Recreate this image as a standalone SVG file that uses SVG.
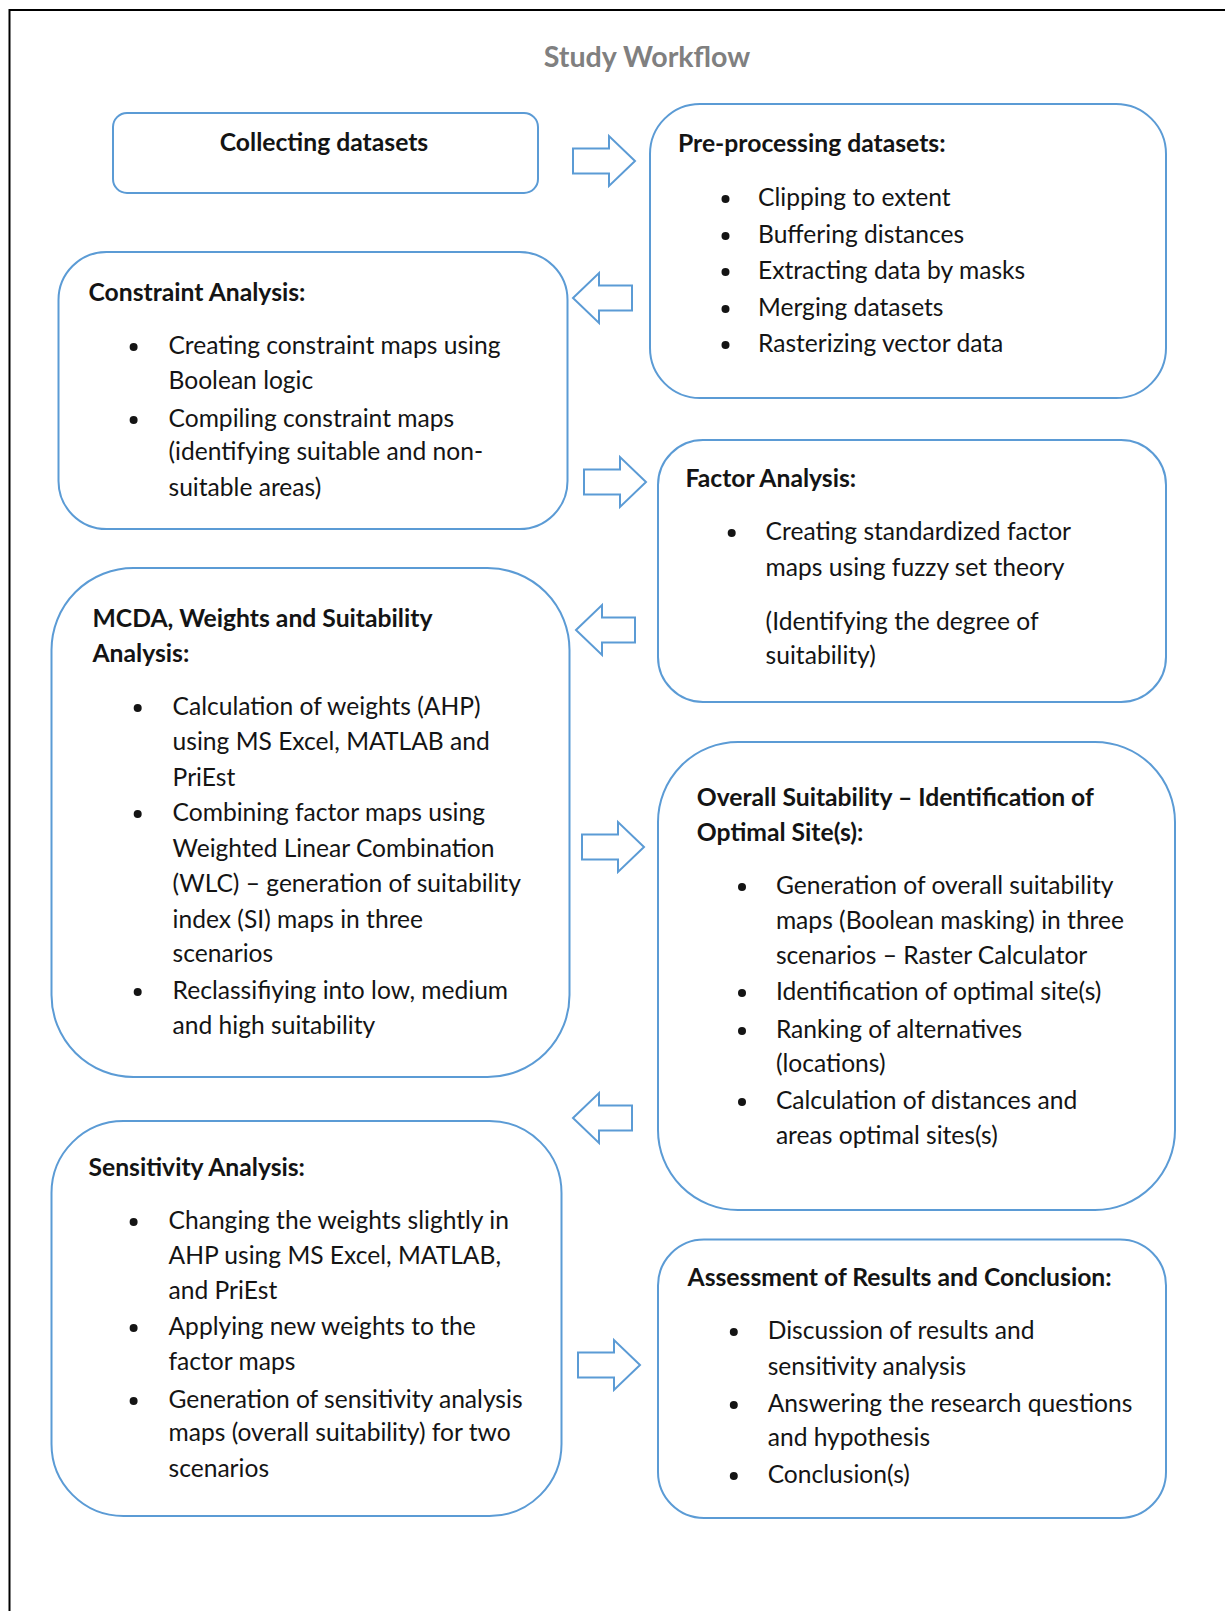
<svg xmlns="http://www.w3.org/2000/svg" width="1225" height="1611" viewBox="0 0 1225 1611">
  <style>
    .box { fill: #ffffff; stroke: #5b9bd5; stroke-width: 2; }
    .arrow { fill: #ffffff; stroke: #5b9bd5; stroke-width: 2; stroke-linejoin: miter; }
    text { font-family: Lato, "Liberation Sans", sans-serif; fill: #141414; }
    .t { font-size: 24.6px; }
    .h { font-size: 24.7px; font-weight: bold; }
    .title { font-size: 28.6px; font-weight: bold; fill: #808080; }
    .dot { fill: #141414; }
  </style>
  <defs>
    <!-- block arrow pointing right, origin at the tail, centred vertically -->
    <path id="arrowR" d="M0,-12.5 H36 V-25 L62,0 L36,25 V12.5 H0 Z"/>
    <!-- block arrow pointing left, origin at the tip -->
    <path id="arrowL" d="M0,0 L26,-25 V-12.5 H59 V12.5 H26 V25 Z"/>
  </defs>

  <rect width="1225" height="1611" fill="#ffffff"/>
  <!-- page frame (top and left edges) -->
  <path d="M9.5,1611 V10 H1225" fill="none" stroke="#000000" stroke-width="2"/>

  <text class="title" x="647" y="67" text-anchor="middle">Study Workflow</text>

  <g id="connectors">
    <use href="#arrowR" class="arrow" x="573" y="161"/>
    <use href="#arrowL" class="arrow" x="573" y="298"/>
    <use href="#arrowR" class="arrow" x="584" y="482"/>
    <use href="#arrowL" class="arrow" x="576" y="630"/>
    <use href="#arrowR" class="arrow" x="582" y="847"/>
    <use href="#arrowL" class="arrow" x="573" y="1118"/>
    <use href="#arrowR" class="arrow" x="578" y="1365"/>
  </g>

  <g id="collecting">
    <rect class="box" x="113" y="113" width="425" height="80" rx="14"/>
    <text class="h" x="324" y="151" text-anchor="middle">Collecting datasets</text>
  </g>

  <g id="preprocessing">
    <rect class="box" x="650" y="104" width="516" height="294" rx="50"/>
    <text class="h" x="678" y="152">Pre-processing datasets:</text>
    <circle class="dot" cx="725.5" cy="199" r="4"/>
    <circle class="dot" cx="725.5" cy="236" r="4"/>
    <circle class="dot" cx="725.5" cy="272" r="4"/>
    <circle class="dot" cx="725.5" cy="309" r="4"/>
    <circle class="dot" cx="725.5" cy="345" r="4"/>
    <text class="t" x="758" y="206">Clipping to extent</text>
    <text class="t" x="758" y="243">Buffering distances</text>
    <text class="t" x="758" y="279">Extracting data by masks</text>
    <text class="t" x="758" y="316">Merging datasets</text>
    <text class="t" x="758" y="352">Rasterizing vector data</text>
  </g>

  <g id="constraint">
    <rect class="box" x="58.5" y="252" width="509" height="277" rx="48"/>
    <text class="h" x="88.5" y="301">Constraint Analysis:</text>
    <circle class="dot" cx="133.6" cy="347" r="4"/>
    <circle class="dot" cx="133.6" cy="420" r="4"/>
    <text class="t" x="168.5" y="354">Creating constraint maps using</text>
    <text class="t" x="168.5" y="389">Boolean logic</text>
    <text class="t" x="168.5" y="427">Compiling constraint maps</text>
    <text class="t" x="168.5" y="460">(identifying suitable and non-</text>
    <text class="t" x="168.5" y="496">suitable areas)</text>
  </g>

  <g id="factor">
    <rect class="box" x="658" y="440" width="508" height="262" rx="45"/>
    <text class="h" x="685.5" y="487">Factor Analysis:</text>
    <circle class="dot" cx="731.7" cy="533" r="4"/>
    <text class="t" x="765.6" y="540">Creating standardized factor</text>
    <text class="t" x="765.6" y="576">maps using fuzzy set theory</text>
    <text class="t" x="765.6" y="630">(Identifying the degree of</text>
    <text class="t" x="765.6" y="664">suitability)</text>
  </g>

  <g id="mcda">
    <rect class="box" x="51.5" y="568" width="518" height="509" rx="82"/>
    <text class="h" x="92.5" y="627">MCDA, Weights and Suitability</text>
    <text class="h" x="92.5" y="662">Analysis:</text>
    <circle class="dot" cx="137.7" cy="708" r="4"/>
    <circle class="dot" cx="137.7" cy="814" r="4"/>
    <circle class="dot" cx="137.7" cy="992" r="4"/>
    <text class="t" x="172.6" y="715">Calculation of weights (AHP)</text>
    <text class="t" x="172.6" y="750">using MS Excel, MATLAB and</text>
    <text class="t" x="172.6" y="786">PriEst</text>
    <text class="t" x="172.6" y="821">Combining factor maps using</text>
    <text class="t" x="172.6" y="857">Weighted Linear Combination</text>
    <text class="t" x="172.6" y="892">(WLC) – generation of suitability</text>
    <text class="t" x="172.6" y="928">index (SI) maps in three</text>
    <text class="t" x="172.6" y="962">scenarios</text>
    <text class="t" x="172.6" y="999">Reclassifiying into low, medium</text>
    <text class="t" x="172.6" y="1034">and high suitability</text>
  </g>

  <g id="overall">
    <rect class="box" x="658" y="742" width="517" height="468" rx="80"/>
    <text class="h" x="696.8" y="806">Overall Suitability – Identification of</text>
    <text class="h" x="696.8" y="841">Optimal Site(s):</text>
    <circle class="dot" cx="742" cy="887" r="4"/>
    <circle class="dot" cx="742" cy="993" r="4"/>
    <circle class="dot" cx="742" cy="1031" r="4"/>
    <circle class="dot" cx="742" cy="1102" r="4"/>
    <text class="t" x="775.9" y="894">Generation of overall suitability</text>
    <text class="t" x="775.9" y="929">maps (Boolean masking) in three</text>
    <text class="t" x="775.9" y="964">scenarios – Raster Calculator</text>
    <text class="t" x="775.9" y="1000">Identification of optimal site(s)</text>
    <text class="t" x="775.9" y="1038">Ranking of alternatives</text>
    <text class="t" x="775.9" y="1072">(locations)</text>
    <text class="t" x="775.9" y="1109">Calculation of distances and</text>
    <text class="t" x="775.9" y="1144">areas optimal sites(s)</text>
  </g>

  <g id="sensitivity">
    <rect class="box" x="51.5" y="1121" width="510" height="395" rx="72"/>
    <text class="h" x="88.5" y="1176">Sensitivity Analysis:</text>
    <circle class="dot" cx="133.6" cy="1222" r="4"/>
    <circle class="dot" cx="133.6" cy="1328" r="4"/>
    <circle class="dot" cx="133.6" cy="1401" r="4"/>
    <text class="t" x="168.5" y="1229">Changing the weights slightly in</text>
    <text class="t" x="168.5" y="1264">AHP using MS Excel, MATLAB,</text>
    <text class="t" x="168.5" y="1299">and PriEst</text>
    <text class="t" x="168.5" y="1335">Applying new weights to the</text>
    <text class="t" x="168.5" y="1370">factor maps</text>
    <text class="t" x="168.5" y="1408">Generation of sensitivity analysis</text>
    <text class="t" x="168.5" y="1441">maps (overall suitability) for two</text>
    <text class="t" x="168.5" y="1477">scenarios</text>
  </g>

  <g id="assessment">
    <rect class="box" x="658" y="1239.5" width="508" height="278.5" rx="46"/>
    <text class="h" x="687.5" y="1286">Assessment of Results and Conclusion:</text>
    <circle class="dot" cx="733.8" cy="1332" r="4"/>
    <circle class="dot" cx="733.8" cy="1405" r="4"/>
    <circle class="dot" cx="733.8" cy="1476" r="4"/>
    <text class="t" x="767.7" y="1339">Discussion of results and</text>
    <text class="t" x="767.7" y="1375">sensitivity analysis</text>
    <text class="t" x="767.7" y="1412">Answering the research questions</text>
    <text class="t" x="767.7" y="1446">and hypothesis</text>
    <text class="t" x="767.7" y="1483">Conclusion(s)</text>
  </g>
</svg>
